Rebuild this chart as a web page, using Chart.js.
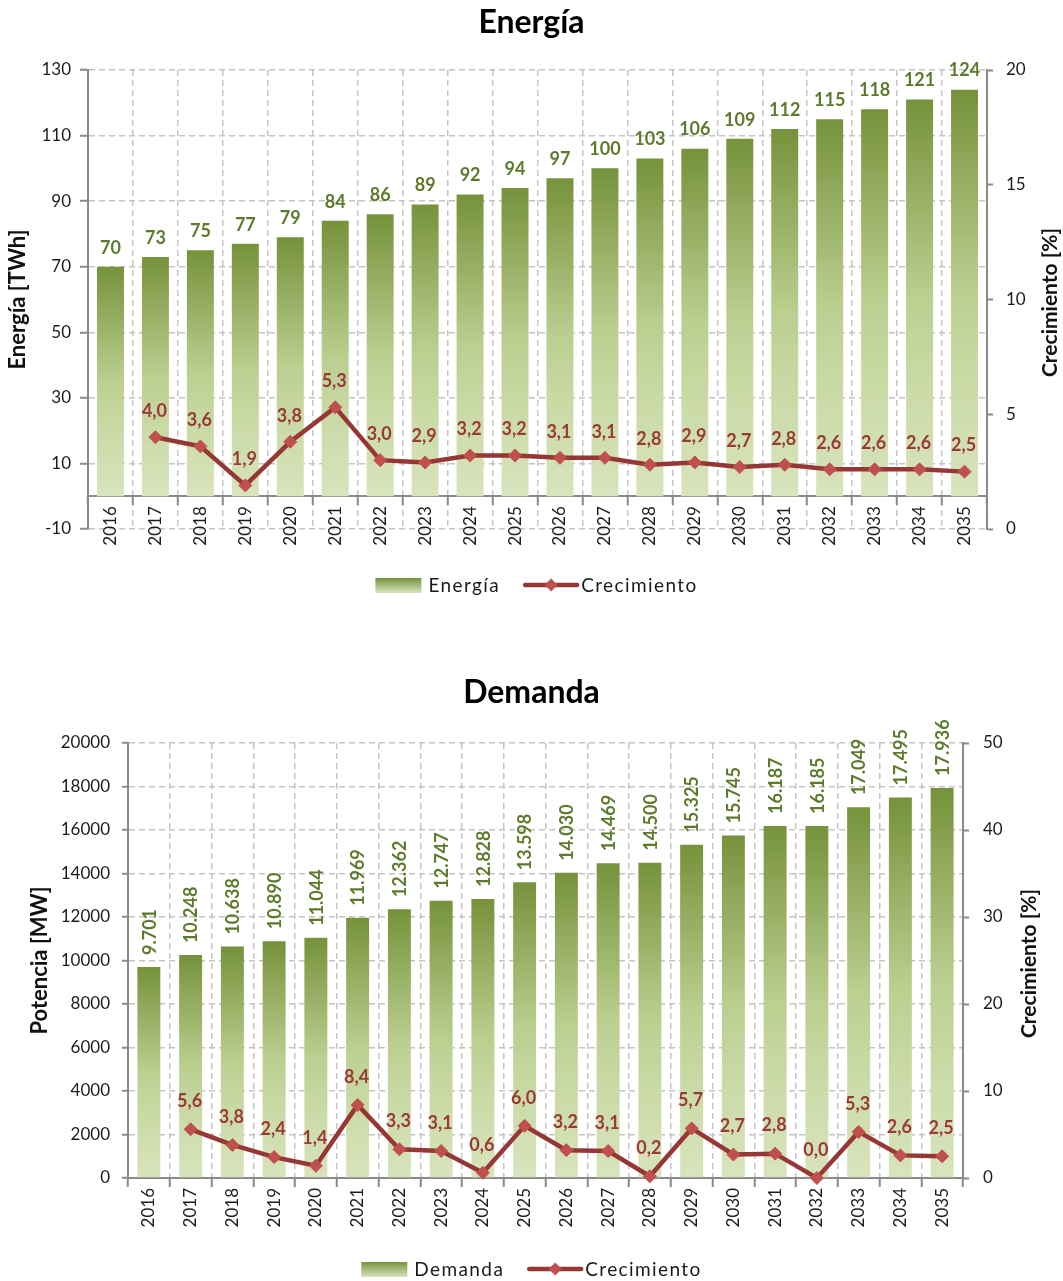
<!DOCTYPE html>
<html>
<head>
<meta charset="utf-8">
<title>Energía y Demanda</title>
<script src="https://cdn.jsdelivr.net/npm/chart.js@4.4.1/dist/chart.umd.min.js"></script>
<style>
  html, body { margin: 0; padding: 0; background: #ffffff; }
  #wrap { position: relative; width: 1063px; height: 1281px; }
  .panel { position: absolute; left: 0; width: 1063px; }
  canvas { display: block; }
</style>
</head>
<body>
<div id="wrap">
  <div class="panel" style="top:0;height:640px"><canvas id="energia" width="1063" height="640"></canvas></div>
  <div class="panel" style="top:640px;height:641px"><canvas id="demanda" width="1063" height="641"></canvas></div>
</div>
<script>
// ---- data ----
const years = ['2016','2017','2018','2019','2020','2021','2022','2023','2024','2025',
               '2026','2027','2028','2029','2030','2031','2032','2033','2034','2035'];

// Energía [TWh]
const energiaTWh = [70, 73, 75, 77, 79, 84, 86, 89, 92, 94, 97, 100, 103, 106, 109, 112, 115, 118, 121, 124];
// Crecimiento energía [%]
const crecimientoEnergia = [null, 4.0, 3.6, 1.9, 3.8, 5.3, 3.0, 2.9, 3.2, 3.2, 3.1, 3.1, 2.8, 2.9, 2.7, 2.8, 2.6, 2.6, 2.6, 2.5];

// Demanda [MW]
const demandaMW = [9701, 10248, 10638, 10890, 11044, 11969, 12362, 12747, 12828, 13598,
                   14030, 14469, 14500, 15325, 15745, 16187, 16185, 17049, 17495, 17936];
// Crecimiento demanda [%]
const crecimientoDemanda = [null, 5.6, 3.8, 2.4, 1.4, 8.4, 3.3, 3.1, 0.6, 6.0, 3.2, 3.1, 0.2, 5.7, 2.7, 2.8, 0.0, 5.3, 2.6, 2.5];

// axis ranges: [min, max, step]
const energiaAxis = [-10, 130, 20];
const energiaPctAxis = [0, 20, 5];
const demandaAxis = [0, 20000, 2000];
const demandaPctAxis = [0, 50, 10];

// ---- styling ----
const FONT = 'Lato, "Open Sans", "DejaVu Sans", sans-serif';
Chart.defaults.font.family = FONT;
Chart.defaults.color = '#1c1c1c';

const GREEN_TEXT = '#5e7b2d';
const RED_LINE = '#953735';
const RED_MARK = '#c0504d';
const RED_TEXT = '#9a3a38';
const AXIS = '#8a8a8a';
const GRID = '#c4c4c4';

const fmtThousands = v => Math.round(v).toString().replace(/\B(?=(\d{3})+(?!\d))/g, '.');
const fmtPct = v => v.toFixed(1).replace('.', ',');

// vertical gradient spanning each bar from its top down to the zero line
function barGradient(ctx) {
  const chart = ctx.chart;
  if (ctx.type !== 'data' || !chart.chartArea) return '#9bbb59';
  const ys = chart.scales.y;
  const top = ys.getPixelForValue(ctx.raw);
  const base = ys.getPixelForValue(0);
  const g = chart.ctx.createLinearGradient(0, top, 0, base);
  g.addColorStop(0, '#76923b');
  g.addColorStop(0.5, '#bbcf90');
  g.addColorStop(0.72, '#cadaa6');
  g.addColorStop(1, '#d8e4bd');
  return g;
}

// value labels above bars and line points
const valueLabels = {
  id: 'valueLabels',
  afterDatasetsDraw(chart, args, opts) {
    const ctx = chart.ctx;
    chart.data.datasets.forEach((ds, di) => {
      const meta = chart.getDatasetMeta(di);
      if (meta.hidden) return;
      meta.data.forEach((el, i) => {
        const v = ds.data[i];
        if (v === null || v === undefined) return;
        ctx.save();
        if (meta.type === 'bar') {
          ctx.fillStyle = GREEN_TEXT;
          ctx.font = 'bold ' + opts.barFontSize + 'px ' + FONT;
          if (opts.rotateBars) {
            ctx.translate(el.x, el.y - opts.barOffset);
            ctx.rotate(-Math.PI / 2);
            ctx.textAlign = 'left';
            ctx.textBaseline = 'middle';
            ctx.fillText(opts.barFormat(v), 0, 1);
          } else {
            ctx.textAlign = 'center';
            ctx.textBaseline = 'middle';
            ctx.fillText(opts.barFormat(v), el.x, el.y - opts.barOffset);
          }
        } else {
          ctx.fillStyle = RED_TEXT;
          ctx.font = 'bold 18px ' + FONT;
          ctx.textAlign = 'center';
          ctx.textBaseline = 'middle';
          ctx.fillText(fmtPct(v), el.x - 1, el.y - opts.lineOffset);
        }
        ctx.restore();
      });
    });
  }
};

// right-hand axis title (reads bottom to top) and the legend row
const sideTitleAndLegend = {
  id: 'sideTitleAndLegend',
  afterDraw(chart, args, opts) {
    const ctx = chart.ctx;
    const area = chart.chartArea;
    // right axis title
    ctx.save();
    ctx.translate(opts.rightTitleX, (area.top + area.bottom) / 2 + 3);
    ctx.rotate(-Math.PI / 2);
    ctx.font = 'bold 21px ' + FONT;
    ctx.fillStyle = '#111';
    ctx.textAlign = 'center';
    ctx.textBaseline = 'middle';
    ctx.fillText(opts.rightTitle, 0, 0);
    ctx.restore();

    // legend
    ctx.save();
    ctx.font = '19px ' + FONT;
    if ('letterSpacing' in ctx) ctx.letterSpacing = '1.4px';
    const barText = chart.data.datasets[1].label;
    const lineText = chart.data.datasets[0].label;
    const wBar = ctx.measureText(barText).width;
    const wLine = ctx.measureText(lineText).width;
    const sw = 46, gap1 = 7, gap2 = 25, lw = 52, gap3 = 4;
    const total = sw + gap1 + wBar + gap2 + lw + gap3 + wLine;
    let x = chart.width / 2 + opts.legendShift - total / 2;
    const y = opts.legendY;
    const g = ctx.createLinearGradient(0, y - 7, 0, y + 8);
    g.addColorStop(0, '#76923b');
    g.addColorStop(1, '#d8e4bd');
    ctx.fillStyle = g;
    ctx.fillRect(x, y - 7, sw, 15);
    x += sw + gap1;
    ctx.fillStyle = '#1a1a1a';
    ctx.textAlign = 'left';
    ctx.textBaseline = 'middle';
    ctx.fillText(barText, x, y + 1);
    x += wBar + gap2;
    ctx.strokeStyle = RED_LINE;
    ctx.lineWidth = 4.5;
    ctx.lineCap = 'round';
    ctx.beginPath();
    ctx.moveTo(x, y);
    ctx.lineTo(x + lw, y);
    ctx.stroke();
    ctx.fillStyle = RED_MARK;
    const cx = x + lw / 2, r = 6.5;
    ctx.beginPath();
    ctx.moveTo(cx, y - r); ctx.lineTo(cx + r, y); ctx.lineTo(cx, y + r); ctx.lineTo(cx - r, y);
    ctx.closePath();
    ctx.fill();
    x += lw + gap3;
    ctx.fillStyle = '#1a1a1a';
    ctx.fillText(lineText, x, y + 1);
    ctx.restore();
  }
};

function buildChart(id, p) {
  return new Chart(document.getElementById(id), {
    type: 'bar',
    data: {
      labels: years,
      datasets: [
        {
          type: 'line',
          label: 'Crecimiento',
          data: p.pct,
          yAxisID: 'y1',
          order: 0,
          borderColor: RED_LINE,
          borderWidth: 4.5,
          pointStyle: 'rectRot',
          pointRadius: 6.5,
          pointBackgroundColor: RED_MARK,
          pointBorderColor: RED_MARK,
          pointBorderWidth: 1,
          tension: 0,
          clip: false
        },
        {
          type: 'bar',
          label: p.barLabel,
          data: p.bars,
          yAxisID: 'y',
          order: 1,
          backgroundColor: barGradient,
          borderWidth: 0,
          barPercentage: p.barPct,
          categoryPercentage: 1
        }
      ]
    },
    options: {
      responsive: false,
      animation: false,
      events: [],
      layout: { padding: { top: 0, left: 0, right: 0, bottom: p.padBottom } },
      plugins: {
        legend: { display: false },
        tooltip: { enabled: false },
        title: {
          display: true,
          text: p.title,
          color: '#000',
          font: { size: 32, weight: 'bold', family: FONT },
          padding: { top: p.titleTop, bottom: p.titleBottom }
        },
        valueLabels: {
          rotateBars: p.rotateBars,
          barOffset: p.barOffset,
          barFormat: p.barFormat,
          barFontSize: p.barFontSize,
          lineOffset: p.lineOffset
        },
        sideTitleAndLegend: {
          rightTitle: 'Crecimiento [%]',
          rightTitleX: p.rightTitleX,
          legendY: p.legendY,
          legendShift: p.legendShift
        }
      },
      scales: {
        x: {
          position: { y: 0 },
          offset: true,
          grid: {
            offset: true,
            color: GRID,
            lineWidth: 1.5,
            drawTicks: true,
            tickLength: 8,
            tickColor: AXIS,
            tickWidth: 2,
            tickBorderDash: []
          },
          border: { display: true, color: AXIS, width: 2, dash: [6, 4] },
          ticks: {
            autoSkip: false,
            minRotation: 90,
            maxRotation: 90,
            padding: 2,
            font: { size: 17 },
            color: '#1c1c1c'
          }
        },
        y: {
          position: 'left',
          min: p.yAxis[0], max: p.yAxis[1],
          ticks: {
            stepSize: p.yAxis[2],
            padding: p.yTickPad,
            font: { size: 17 },
            color: '#1c1c1c',
            callback: v => String(v)
          },
          grid: {
            color: GRID,
            lineWidth: 1.5,
            tickLength: p.yTickLen,
            tickColor: AXIS,
            tickWidth: 2,
            tickBorderDash: []
          },
          border: { display: true, color: AXIS, width: 2, dash: [6, 4] },
          title: {
            display: true,
            text: p.leftTitle,
            color: '#111',
            font: { size: 22, weight: 'bold' },
            padding: { top: p.leftTitlePad, bottom: 0 }
          },
          afterFit: s => { s.width = p.leftWidth; }
        },
        y1: {
          position: 'right',
          min: p.y1Axis[0], max: p.y1Axis[1],
          ticks: {
            stepSize: p.y1Axis[2],
            padding: p.y1TickPad,
            font: { size: 17 },
            color: '#1c1c1c',
            callback: v => String(v)
          },
          grid: {
            drawOnChartArea: false,
            tickLength: 6,
            tickColor: AXIS,
            tickWidth: 2
          },
          border: { display: true, color: AXIS, width: 2 },
          afterFit: s => { s.width = p.rightWidth; }
        }
      }
    },
    plugins: [valueLabels, sideTitleAndLegend]
  });
}

buildChart('energia', {
  title: 'Energía',
  barLabel: 'Energía',
  bars: energiaTWh,
  pct: crecimientoEnergia,
  yAxis: energiaAxis,
  y1Axis: energiaPctAxis,
  leftTitle: 'Energía [TWh]',
  leftTitlePad: 5,
  leftWidth: 88,
  rightWidth: 76,
  yTickLen: 8,
  yTickPad: 9,
  y1TickPad: 13,
  barPct: 0.6,
  titleTop: 3,
  titleBottom: 28.6,
  padBottom: 111,
  rotateBars: false,
  barOffset: 19,
  barFontSize: 18,
  barFormat: v => String(v),
  lineOffset: 26,
  rightTitleX: 1050,
  legendY: 585,
  legendShift: 5
});

buildChart('demanda', {
  title: 'Demanda',
  barLabel: 'Demanda',
  bars: demandaMW,
  pct: crecimientoDemanda,
  yAxis: demandaAxis,
  y1Axis: demandaPctAxis,
  leftTitle: 'Potencia [MW]',
  leftTitlePad: 27,
  leftWidth: 128,
  rightWidth: 100,
  yTickLen: 6,
  yTickPad: 12,
  y1TickPad: 14,
  barPct: 0.55,
  titleTop: 33,
  titleBottom: 31.6,
  padBottom: 103,
  rotateBars: true,
  barOffset: 12,
  barFontSize: 18,
  barFormat: fmtThousands,
  lineOffset: 28,
  rightTitleX: 1029,
  legendY: 629,
  legendShift: 0
});
</script>
</body>
</html>
